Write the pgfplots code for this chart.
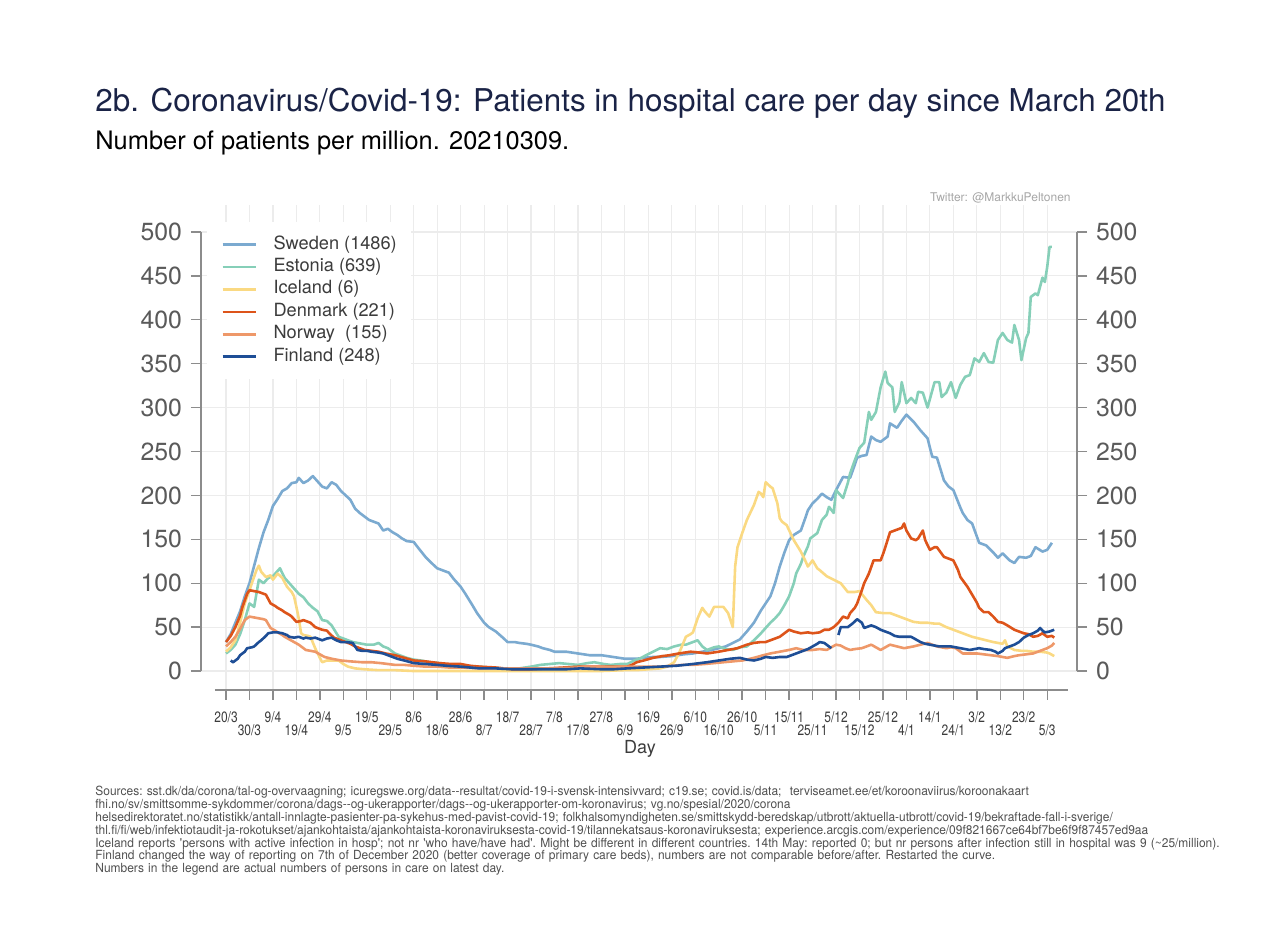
\documentclass[border=0pt]{standalone}
\usepackage{fontspec}
\setmainfont{TeX Gyre Heros}
\newfontfamily\cond[FakeStretch=0.8]{TeX Gyre Heros}
\newfontfamily\srcfont[FakeStretch=0.95]{TeX Gyre Heros}
\usepackage{pgfplots}
\pgfplotsset{compat=1.18}

\definecolor{sweden}{RGB}{123,170,208}
\definecolor{estonia}{RGB}{134,207,184}
\definecolor{iceland}{RGB}{250,217,130}
\definecolor{denmark}{RGB}{221,84,26}
\definecolor{norway}{RGB}{238,152,105}
\definecolor{finland}{RGB}{30,78,150}
\definecolor{titlecol}{RGB}{26,35,70}
\definecolor{gridcol}{RGB}{236,236,236}
\definecolor{axiscol}{RGB}{140,140,140}
\definecolor{ylab}{RGB}{90,90,90}
\definecolor{xlab}{RGB}{60,60,60}
\definecolor{srccol}{RGB}{80,80,80}

\pgfplotsset{
  commonaxis/.style={
    at={(100.5bp,120.5bp)}, anchor=south west,
    scale only axis, width=438bp, height=242.5bp,
    xmin=-10.66, xmax=362.7, ymin=-21.6, ymax=530.7,
    axis line style={draw=none},
    tick align=outside,
    major tick length=5bp,
    tick style={color=axiscol, line width=0.7bp},
    ytick={0,50,...,500},
    /pgf/number format/assume math mode=true,
    yticklabel style={font=\fontsize{12.4bp}{14bp}\selectfont, text=ylab},
  }
}

\begin{document}
\begin{tikzpicture}
\useasboundingbox (0,0) rectangle (640bp,465.5bp);

\begin{axis}[
  commonaxis,
  clip=false,
  grid=major,
  major grid style={color=gridcol, line width=0.6bp},
  xtick pos=bottom, ytick pos=left,
  xtick={0,20,...,340},
  xticklabels={20/3,9/4,29/4,19/5,8/6,28/6,18/7,7/8,27/8,16/9,6/10,26/10,15/11,5/12,25/12,14/1,3/2,23/2},
  extra x ticks={10,30,...,350},
  extra x tick labels={30/3,19/4,9/5,29/5,18/6,8/7,28/7,17/8,6/9,26/9,16/10,5/11,25/11,15/12,4/1,24/1,13/2,5/3},
  extra x tick style={grid=major, xticklabel style={yshift=-6.5bp}},
  xticklabel style={font=\cond\fontsize{7.5bp}{9bp}\selectfont, text=xlab, yshift=-2.5bp},
  yticklabel style={xshift=-1bp},
  legend style={at={(0.0068,0.965)}, anchor=north west, draw=none, fill=white,
    inner xsep=7bp, inner ysep=6.5bp,
    font=\fontsize{9.1bp}{11bp}\selectfont, text=xlab,
    nodes={inner sep=0.3bp, text height=6.6bp, text depth=2.2bp},
    row sep=1.8bp},
  legend cell align=left,
  legend image code/.code={\draw[#1, line width=1.3bp] (0bp,0bp) -- (16.5bp,0bp); \path (24.5bp,0bp);},
  every axis plot/.append style={line width=1.3bp, line join=round},
]
% Sweden
\addplot[sweden] coordinates {(0,33) (2,42) (4,55) (6,68) (8,85) (10,100) (12,120) (14,140) (16,158) (18,172) (20,188) (22,196) (24,205) (26,208) (28,214) (30,215) (31,220) (33,214) (35,217) (37,222) (39,216) (41,210) (43,208) (45,215) (47,212) (49,205) (51,200) (53,195) (55,185) (57,180) (59,176) (61,172) (63,170) (65,168) (67,160) (69,162) (71,158) (73,155) (75,151) (77,148) (80,147) (82,140) (85,130) (88,122) (90,117) (93,114) (95,112) (97,105) (100,96) (102,88) (105,75) (107,66) (110,55) (112,50) (115,45) (118,38) (120,33) (123,33) (125,32) (128,31) (130,30) (133,28) (135,26) (138,24) (140,22) (145,22) (150,20) (155,18) (160,18) (165,16) (170,14) (175,14) (178,15) (182,16) (185,16) (190,17) (195,19) (199,20) (203,22) (207,24) (210,26) (213,28) (216,32) (219,36) (222,45) (225,55) (228,69) (230,77) (232,85) (234,100) (236,119) (238,135) (240,149) (242,155) (245,160) (247,175) (248,183) (250,191) (252,196) (254,202) (256,198) (258,195) (260,206) (263,221) (266,220) (268,235) (269,243) (271,245) (273,246) (275,267) (277,263) (279,261) (282,267) (283,282) (286,277) (288,285) (290,292) (293,284) (296,274) (299,265) (301,244) (303,243) (306,217) (308,210) (310,206) (313,186) (314,180) (316,172) (318,168) (321,146) (324,143) (327,135) (329,129) (331,134) (334,126) (336,123) (338,130) (341,129) (343,131) (345,141) (348,136) (350,138) (352,146)};
\addlegendentry{Sweden (1486)}
% Estonia
\addplot[estonia] coordinates {(0,20) (2,24) (4,30) (6,42) (8,58) (10,77) (12,73) (14,104) (16,100) (18,106) (20,108) (21,111) (23,117) (25,106) (27,100) (29,94) (31,88) (33,84) (35,77) (37,72) (39,68) (41,58) (43,57) (45,52) (48,39) (50,37) (52,35) (54,33) (56,32) (58,31) (60,30) (63,30) (65,32) (67,28) (69,26) (72,20) (74,18) (77,15) (80,13) (83,12) (87,10) (91,9) (95,7) (100,6) (104,5) (108,5) (112,4) (117,3) (121,3) (125,3) (130,5) (134,7) (138,8) (142,9) (146,8) (150,7) (154,9) (157,10) (161,8) (164,7) (168,8) (171,8) (174,12) (177,15) (179,18) (182,22) (185,26) (188,25) (191,28) (194,30) (196,30) (199,33) (201,35) (203,28) (205,24) (208,27) (210,28) (213,25) (216,24) (219,27) (222,28) (225,35) (228,43) (230,49) (232,55) (234,60) (236,66) (238,75) (240,85) (242,100) (243,111) (245,122) (246,130) (248,142) (249,151) (251,155) (252,157) (254,172) (256,178) (257,187) (259,180) (260,206) (262,200) (263,197) (265,214) (266,225) (268,240) (270,254) (272,260) (274,295) (275,286) (277,295) (279,323) (281,341) (282,328) (284,323) (285,295) (287,306) (288,329) (290,305) (292,311) (294,305) (295,318) (297,317) (299,300) (302,329) (304,329) (305,312) (307,317) (309,329) (311,311) (313,326) (315,335) (317,337) (319,356) (321,352) (323,362) (325,352) (327,351) (329,377) (331,385) (333,377) (335,374) (336,394) (338,377) (339,354) (341,379) (342,385) (343,426) (345,430) (346,428) (348,448) (349,443) (350,460) (351,483) (352,483)};
\addlegendentry{Estonia (639)}
% Iceland
\addplot[iceland] coordinates {(0,22) (2,27) (4,35) (6,55) (8,77) (10,92) (11,100) (13,115) (14,120) (15,113) (17,107) (19,109) (20,104) (22,111) (24,106) (26,96) (28,90) (29,85) (30,73) (31,60) (32,43) (33,41) (35,40) (36,39) (38,26) (40,15) (41,10) (43,12) (45,12) (48,12) (50,8) (52,5) (55,3) (59,2) (65,1) (72,1) (80,0) (100,0) (120,0) (140,0) (160,0) (170,1) (175,1) (180,2) (185,3) (188,5) (191,10) (193,20) (194,26) (196,39) (198,42) (199,44) (201,60) (203,72) (204,68) (206,62) (208,73) (210,73) (212,73) (214,66) (215,58) (216,50) (217,119) (218,141) (220,157) (222,172) (225,189) (227,204) (228,202) (229,198) (230,215) (232,210) (233,208) (235,191) (236,174) (237,170) (239,166) (242,149) (245,136) (247,125) (248,119) (250,126) (252,117) (253,115) (256,108) (259,104) (262,100) (265,90) (268,90) (270,91) (273,81) (275,75) (277,67) (280,66) (283,66) (286,63) (289,60) (291,58) (293,56) (296,55) (299,55) (302,54) (304,54) (307,50) (310,47) (313,44) (316,41) (318,39) (321,37) (324,35) (327,33) (329,32) (331,31) (332,35) (333,28) (336,24) (339,23) (341,23) (344,22) (347,22) (350,21) (351,20) (353,17)};
\addlegendentry{Iceland (6)}
% Denmark
\addplot[denmark] coordinates {(0,33) (2,40) (4,50) (6,63) (7,73) (9,88) (10,92) (12,91) (14,90) (16,88) (17,87) (19,77) (21,74) (22,72) (24,69) (25,67) (27,64) (28,62) (30,56) (32,57) (33,58) (35,56) (36,55) (38,50) (40,48) (41,47) (43,46) (44,43) (46,38) (48,36) (51,33) (53,31) (55,28) (57,26) (59,24) (62,23) (65,22) (68,20) (72,18) (76,15) (80,12) (85,11) (91,9) (96,8) (100,8) (104,6) (108,5) (115,4) (122,2) (130,2) (137,3) (144,4) (151,5) (158,5) (165,5) (171,5) (173,7) (175,10) (178,12) (182,15) (186,17) (189,18) (193,20) (198,22) (202,21) (205,20) (210,22) (214,24) (218,26) (222,30) (225,32) (228,33) (230,33) (233,36) (236,39) (238,43) (240,47) (242,45) (245,43) (248,44) (250,43) (253,44) (255,47) (257,47) (259,50) (261,55) (263,62) (265,60) (266,66) (268,72) (269,77) (271,92) (272,100) (274,111) (276,126) (279,126) (280,133) (281,141) (283,158) (286,161) (288,163) (289,168) (290,160) (292,151) (294,149) (295,151) (297,160) (298,149) (300,138) (302,141) (303,141) (306,130) (308,128) (310,126) (312,115) (313,107) (316,96) (318,87) (320,78) (321,72) (323,67) (325,67) (327,62) (329,56) (331,55) (333,52) (336,47) (338,45) (340,43) (342,42) (344,39) (346,40) (348,43) (350,39) (352,40) (353,38)};
\addlegendentry{Denmark (221)}
% Norway
\addplot[norway] coordinates {(0,28) (2,33) (4,39) (6,48) (8,58) (10,62) (12,61) (14,60) (16,59) (17,58) (19,49) (21,46) (22,44) (24,41) (25,39) (27,36) (29,33) (31,30) (34,24) (36,23) (38,22) (40,19) (42,16) (45,14) (49,12) (53,11) (58,10) (62,10) (66,9) (69,8) (72,7) (76,7) (80,6) (85,5) (90,5) (95,4) (100,4) (110,3) (120,3) (130,3) (140,3) (150,4) (160,4) (170,5) (180,5) (185,5) (190,6) (195,7) (199,7) (204,8) (208,9) (212,10) (216,11) (220,12) (222,13) (225,15) (229,18) (232,20) (236,22) (240,24) (243,26) (246,24) (250,24) (253,25) (256,24) (258,27) (260,30) (262,29) (264,26) (266,24) (268,25) (271,26) (273,28) (275,30) (277,27) (279,24) (281,27) (283,30) (286,28) (289,26) (291,27) (293,28) (296,30) (299,32) (301,30) (303,28) (305,27) (307,26) (309,27) (311,26) (313,22) (314,20) (317,20) (320,20) (323,19) (326,18) (329,17) (331,16) (333,15) (336,17) (338,18) (341,19) (344,20) (346,22) (348,24) (350,26) (352,29) (353,32)};
\addlegendentry{Norway\ \ (155)}
% Finland (reporting changed 7 Dec 2020: curve restarted)
\addplot[finland] coordinates {(2,12) (3,10) (5,14) (6,18) (8,22) (9,26) (11,27) (12,28) (14,33) (15,35) (17,40) (18,43) (20,44) (22,44) (24,43) (26,41) (27,39) (29,38) (31,39) (33,37) (34,38) (36,37) (38,38) (40,36) (41,35) (43,37) (45,38) (47,35) (49,33) (51,33) (54,32) (55,28) (56,24) (58,23) (60,23) (62,22) (65,21) (67,20) (69,18) (71,16) (73,14) (76,12) (80,9) (85,8) (90,7) (94,6) (100,5) (108,3) (115,3) (122,2) (130,2) (137,2) (145,2) (151,3) (160,2) (165,2) (171,3) (178,4) (185,5) (192,6) (199,8) (205,10) (210,12) (215,14) (219,15) (222,13) (225,12) (228,14) (230,16) (233,15) (236,16) (239,16) (242,19) (245,22) (248,25) (250,28) (252,31) (253,33) (255,32) (256,30) (258,26)};
\addlegendentry{Finland (248)}
\addplot[finland, forget plot] coordinates {(261,41) (262,50) (265,50) (267,54) (269,59) (271,55) (272,49) (275,52) (277,50) (279,47) (281,45) (283,43) (285,40) (287,39) (290,39) (292,39) (294,36) (296,33) (298,31) (300,30) (302,29) (304,28) (307,28) (309,28) (311,27) (313,26) (315,25) (317,24) (319,25) (321,26) (323,25) (326,24) (328,22) (329,20) (331,23) (332,26) (334,28) (336,30) (338,33) (340,38) (342,41) (344,43) (346,46) (347,49) (348,46) (349,44) (351,45) (353,47)};

% axis lines (Stata style: y lines span 0-500 only)
\draw[axiscol, line width=0.8bp] (axis cs:-10.66,0) -- (axis cs:-10.66,500);
\draw[axiscol, line width=0.8bp] (axis cs:362.7,0) -- (axis cs:362.7,500);
\draw[axiscol, line width=0.8bp] (axis cs:-4.7,-21.6) -- (axis cs:358.9,-21.6);
\end{axis}

% right-hand y labels
\begin{axis}[
  commonaxis,
  hide x axis,
  ytick pos=right, yticklabel pos=right,
  yticklabel style={xshift=1bp},
]
\end{axis}

\node[anchor=base west, inner sep=0, text=titlecol, font=\fontsize{15.7bp}{18bp}\selectfont] at (47.5bp,409.5bp)
  {2b. Coronavirus/Covid-19: Patients in hospital care per day since March 20th};
\node[anchor=base west, inner sep=0, font=\fontsize{12.7bp}{15bp}\selectfont] at (47.5bp,390.5bp)
  {Number of patients per million. 20210309.};
\node[anchor=base east, inner sep=0, text=black!35, font=\fontsize{6bp}{7bp}\selectfont] at (535.5bp,364.5bp)
  {Twitter: @MarkkuPeltonen};
\node[anchor=base, inner sep=0, text=xlab, font=\fontsize{9bp}{10bp}\selectfont] at (320bp,88.5bp) {Day};
\node[anchor=north west, inner sep=0, text width=600bp, align=left, text=srccol,
      font=\srcfont\fontsize{6.3bp}{6.4bp}\selectfont] at (47.5bp,72.5bp)
  {\lineskiplimit=-10bp\relax\frenchspacing%
   Sources: sst.dk/da/corona/tal-og-overvaagning; icuregswe.org/data-{}-resultat/covid-19-i-svensk-intensivvard; c19.se; covid.is/data;\ \ terviseamet.ee/et/koroonaviirus/koroonakaart\\
   fhi.no/sv/smittsomme-sykdommer/corona/dags-{}-og-ukerapporter/dags-{}-og-ukerapporter-om-koronavirus; vg.no/spesial/2020/corona\\
   helsedirektoratet.no/statistikk/antall-innlagte-pasienter-pa-sykehus-med-pavist-covid-19; folkhalsomyndigheten.se/smittskydd-beredskap/utbrott/aktuella-utbrott/covid-19/bekraftade-fall-i-sverige/\\
   thl.fi/fi/web/infektiotaudit-ja-rokotukset/ajankohtaista/ajankohtaista-koronaviruksesta-covid-19/tilannekatsaus-koronaviruksesta; experience.arcgis.com/experience/09f821667ce64bf7be6f9f87457ed9aa\\
   Iceland reports \textquotesingle persons with active infection in hosp\textquotesingle; not nr \textquotesingle who have/have had\textquotesingle. Might be different in different countries. 14th May: reported 0; but nr persons after infection still in hospital was 9 (\textasciitilde 25/million).\\
   Finland changed the way of reporting on 7th of December 2020 (better coverage of primary care beds), numbers are not comparable before/after. Restarted the curve.\\
   Numbers in the legend are actual numbers of persons in care on latest day.\par};
\end{tikzpicture}
\end{document}
